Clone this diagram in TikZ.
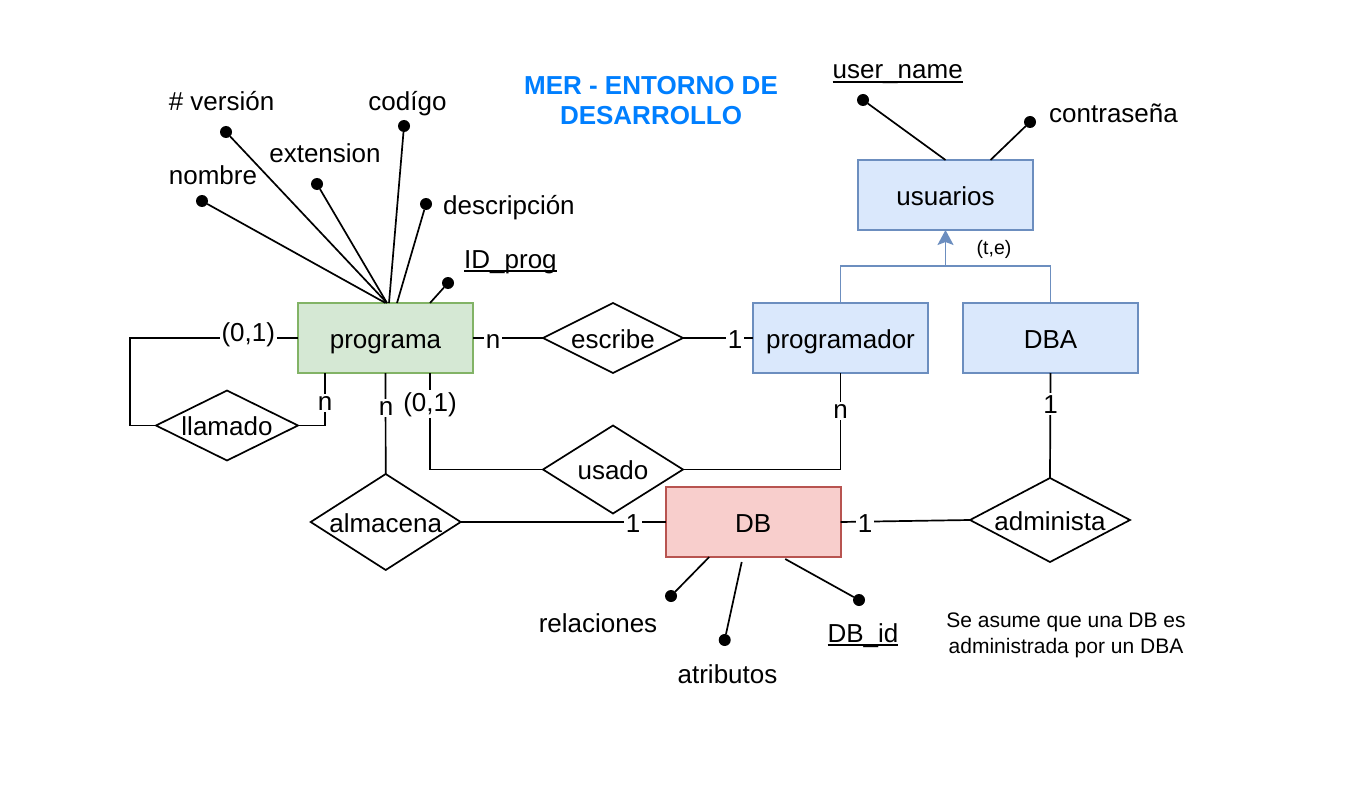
\documentclass[tikz,border=0pt]{standalone}
\usepackage{fontspec}
\setmainfont{Liberation Sans}
\usetikzlibrary{shapes.geometric,arrows.meta}
\definecolor{gfill}{HTML}{D5E8D4}
\definecolor{gline}{HTML}{82B366}
\definecolor{bfill}{HTML}{DAE8FC}
\definecolor{bline}{HTML}{6C8EBF}
\definecolor{rfill}{HTML}{F8CECC}
\definecolor{rline}{HTML}{B85450}
\definecolor{titleblue}{HTML}{007FFF}
\newcommand\myul[1]{\setbox0\hbox{#1}\rlap{\rule[-4pt]{\wd0}{1.6pt}}\box0}
\begin{document}
\begin{tikzpicture}[x=1pt,y=-1pt,
  font=\fontsize{26}{31}\selectfont,
  ent/.style={rectangle, draw, line width=1.7pt, minimum width=175pt, minimum height=70pt, inner sep=0pt, outer sep=0pt, text height=20pt, text depth=0pt},
  rel/.style={diamond, draw, line width=1.7pt, inner sep=0pt, outer sep=0pt},
  rtxt/.style={inner sep=0pt, text height=20pt, text depth=0pt},
  dot/.style={circle, fill=black, inner sep=0pt, outer sep=0pt, minimum size=12pt},
  txt/.style={inner sep=0pt, anchor=base},
  lbl/.style={fill=white, inner sep=2pt, anchor=base},
  conn/.style={line width=1.7pt},
  small/.style={font=\fontsize{19.5}{23}\selectfont},
  note/.style={font=\fontsize{21}{25}\selectfont},
  isaline/.style={line width=1.7pt, draw=bline}
]
\useasboundingbox[fill=white] (0,0) rectangle (1355,797);

% title
\node[txt, font=\fontsize{26}{31}\selectfont\bfseries, text=titleblue] (title1) at (651,95) {MER - ENTORNO DE};
\node[txt, font=\fontsize{26}{31}\selectfont\bfseries, text=titleblue] (title2) at (651,125) {DESARROLLO};

% entities
\node[ent, fill=gfill, draw=gline] (prog) at (385.5,338) {programa};
\node[ent, fill=bfill, draw=bline] (progr) at (840.5,338) {programador};
\node[ent, fill=bfill, draw=bline] (dba) at (1050.5,338) {DBA};
\node[ent, fill=bfill, draw=bline] (usu) at (945.5,195) {usuarios};
\node[ent, fill=rfill, draw=rline] (db) at (753.2,522) {DB};

% relationships
\node[rel, minimum width=140pt, minimum height=70pt] (esc) at (613,338) {};
\node[rtxt] (esct) at (esc) {escribe};
\node[rel, minimum width=142pt, minimum height=70pt] (llam) at (227,425.5) {};
\node[rtxt] (llamt) at (llam) {llamado};
\node[rel, minimum width=150pt, minimum height=96pt] (alm) at (385.7,522) {};
\node[rtxt] (almt) at (alm) {almacena};
\node[rel, minimum width=140pt, minimum height=88pt] (usa) at (613,469.5) {};
\node[rtxt] (usat) at (usa) {usado};
\node[rel, minimum width=160pt, minimum height=84pt] (adm) at (1050,520) {};
\node[rtxt] (admt) at (adm) {administa};

% programa attributes
\node[dot] (dver) at (226,132) {};
\node[dot] (dnom) at (202,201) {};
\node[dot] (dext) at (317,184) {};
\node[dot] (dcod) at (404,126) {};
\node[dot] (ddes) at (426,204) {};
\node[dot] (did) at (448,283) {};
\node[txt] (tver) at (221.5,111) {\# versión};
\node[txt] (tnom) at (213,185) {nombre};
\node[txt] (text) at (325,163) {extension};
\node[txt] (tcod) at (407.5,111) {codígo};
\node[txt, anchor=base west] (tdes) at (443,214) {descripción};
\node[txt, anchor=base west] (tid) at (464,268) {\myul{ID\_prog}};
\draw[conn] (dnom) -- (prog.north);
\draw[conn] (dver) -- ([xshift=1.5pt]prog.north);
\draw[conn] (dext) -- ([xshift=1.5pt]prog.north);
\draw[conn] (dcod) -- ([xshift=3.5pt]prog.north);
\draw[conn] (ddes) -- ([xshift=11.5pt]prog.north);
\draw[conn] (did) -- ([xshift=44.5pt]prog.north);

% usuarios attributes
\node[dot] (dusr) at (863,100) {};
\node[dot] (dpwd) at (1030,122) {};
\node[txt] (tusr) at (897.7,79) {\myul{user\_name}};
\node[txt, anchor=base west] (tpwd) at (1049,123) {contraseña};
\draw[conn] (dusr) -- (usu.north);
\draw[conn] (dpwd) -- ([xshift=45pt]usu.north);

% DB attributes
\node[dot] (drel) at (671,596) {};
\node[dot] (datr) at (724.7,640) {};
\node[dot] (ddbid) at (859,600) {};
\node[txt] (trel) at (598,632) {relaciones};
\node[txt] (tatr) at (727.5,683) {atributos};
\node[txt] (tdbid) at (863,642) {\myul{DB\_id}};
\draw[conn] (drel) -- ([xshift=-44pt]db.south);
\draw[conn] (datr) -- ([xshift=-11.5pt,yshift=-5pt]db.south);
\draw[conn] (ddbid) -- ([xshift=32pt,yshift=-2pt]db.south);

% inheritance
\coordinate (isa) at (945.5,266);
\draw[isaline] (progr.north) -- (progr.north |- isa) -- (dba.north |- isa) -- (dba.north);
\draw[isaline, -{Stealth[length=15pt,width=16pt,inset=3pt]}] (isa) -- (usu.south);
\node[txt, small] (tte) at (994,254) {(t,e)};

% connectors
\draw[conn] (prog.east) -- (esc.west);
\draw[conn] (esc.east) -- (progr.west);
\draw[conn] (prog.west) -- (130,338) |- (llam.west);
\draw[conn] (llam.east) -| ([xshift=-60.5pt]prog.south);
\draw[conn] (prog.south) -- (alm.north);
\draw[conn] ([xshift=44.5pt]prog.south) |- (usa.west);
\draw[conn] (usa.east) -| (progr.south);
\draw[conn] (alm.east) -- (db.west);
\draw[conn] (db.east) -- (adm.west);
\draw[conn] (dba.south) -- (adm.north);

% cardinality labels
\node[lbl] (c1) at (248.3,341.5) {(0,1)};
\node[lbl] (c2) at (493,348) {n};
\node[lbl] (c3) at (735,348) {1};
\node[lbl] (c4) at (325,410) {n};
\node[lbl] (c5) at (386,415) {n};
\node[lbl] (c6) at (430,411) {(0,1)};
\node[lbl] (c7) at (840.5,418) {n};
\node[lbl] (c8) at (1050.5,413) {1};
\node[lbl] (c9) at (633,532) {1};
\node[lbl] (c10) at (865,532) {1};

% note
\node[txt, note] (note1) at (1066,627) {Se asume que una DB es};
\node[txt, note] (note2) at (1066,653.5) {administrada por un DBA};
\end{tikzpicture}
\end{document}
